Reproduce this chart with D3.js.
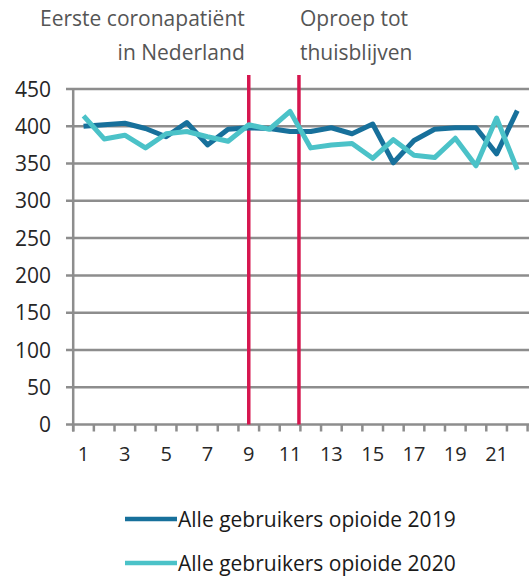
<!DOCTYPE html>
<html>
<head>
<meta charset="utf-8">
<script src="https://cdn.jsdelivr.net/npm/d3@7"></script>
<style>
  body { margin: 0; background: #fff; }
  svg { display: block; font-family: 'Open Sans', sans-serif; }
</style>
</head>
<body>
<div id="chart"></div>
<script>
// weeks 1..22
const weeks = d3.range(1, 23);
const values2019 = [400, 402, 404, 397, 386, 405, 375, 396, 398, 397, 393,
                    393, 398, 390, 403, 351, 381, 396, 398, 398, 363, 421];
const values2020 = [414, 383, 388, 371, 390, 393, 386, 380, 402, 396, 420,
                    371, 375, 377, 357, 382, 361, 358, 384, 347, 411, 342];
const yTicks = [0, 50, 100, 150, 200, 250, 300, 350, 400, 450];
const xTickLabels = [1, 3, 5, 7, 9, 11, 13, 15, 17, 19, 21];
const events = [
  { week: 9, lines: ['Eerste coronapatiënt', 'in Nederland'], side: 'left' },
  { week: 11.43, lines: ['Oproep tot', 'thuisblijven'], side: 'right' }
];
const series = [
  { name: 'Alle gebruikers opioide 2019', values: values2019, color: '#17709b' },
  { name: 'Alle gebruikers opioide 2020', values: values2020, color: '#4bc2c8' }
];

const width = 529, height = 579;
const GRID = '#8d8d8d', RED = '#d6164f';

const svg = d3.select('#chart').append('svg')
  .attr('width', width).attr('height', height);

const x = d3.scaleLinear().domain([0.5, 22.5]).range([73.2, 527.6]);
const y = d3.scaleLinear().domain([0, 450]).range([424.5, 89]);

// gridlines + y labels
svg.append('g').selectAll('line').data(yTicks).enter().append('line')
  .attr('x1', 66).attr('x2', width)
  .attr('y1', d => y(d)).attr('y2', d => y(d))
  .attr('stroke', GRID).attr('stroke-width', 2.5);

svg.append('g').selectAll('text').data(yTicks).enter().append('text')
  .attr('x', 51).attr('y', d => y(d)).attr('dy', '0.36em')
  .attr('text-anchor', 'end').attr('font-size', 21).attr('fill', '#262626')
  .text(d => d);

// y axis line
svg.append('line')
  .attr('x1', x(0.5)).attr('x2', x(0.5)).attr('y1', y(450)).attr('y2', y(0) + 7)
  .attr('stroke', GRID).attr('stroke-width', 2.5);

// x axis ticks between categories
svg.append('g').selectAll('line').data(d3.range(0.5, 23, 1)).enter().append('line')
  .attr('x1', d => x(d)).attr('x2', d => x(d))
  .attr('y1', y(0)).attr('y2', y(0) + 7)
  .attr('stroke', GRID).attr('stroke-width', 2.5);

svg.append('g').selectAll('text').data(xTickLabels).enter().append('text')
  .attr('x', d => x(d)).attr('y', 461)
  .attr('text-anchor', 'middle').attr('font-size', 20).attr('fill', '#262626')
  .text(d => d);

// event markers
events.forEach(ev => {
  svg.append('line')
    .attr('x1', x(ev.week)).attr('x2', x(ev.week))
    .attr('y1', 75).attr('y2', y(0))
    .attr('stroke', RED).attr('stroke-width', 3.5);
  const t = svg.append('text')
    .attr('font-size', 21).attr('fill', '#555')
    .attr('text-anchor', ev.side === 'left' ? 'end' : 'start');
  ev.lines.forEach((l, i) => {
    t.append('tspan')
      .attr('x', ev.side === 'left' ? x(ev.week) - 4 : x(ev.week) + 1)
      .attr('y', 26 + i * 34).text(l);
  });
});

// data lines
const line = d3.line().x((d, i) => x(weeks[i])).y(d => y(d));
series.forEach(s => {
  svg.append('path').datum(s.values)
    .attr('d', line).attr('fill', 'none')
    .attr('stroke', s.color).attr('stroke-width', 5)
    .attr('stroke-linejoin', 'round');
});

// legend
const leg = svg.append('g').selectAll('g').data(series).enter().append('g')
  .attr('transform', (d, i) => `translate(125,${519 + i * 44})`);
leg.append('line').attr('x1', 0).attr('x2', 52)
  .attr('stroke', d => d.color).attr('stroke-width', 4.5);
leg.append('text').attr('x', 53).attr('dy', '0.36em')
  .attr('font-size', 21).attr('fill', '#1a1a1a')
  .text(d => d.name);
</script>
</body>
</html>
